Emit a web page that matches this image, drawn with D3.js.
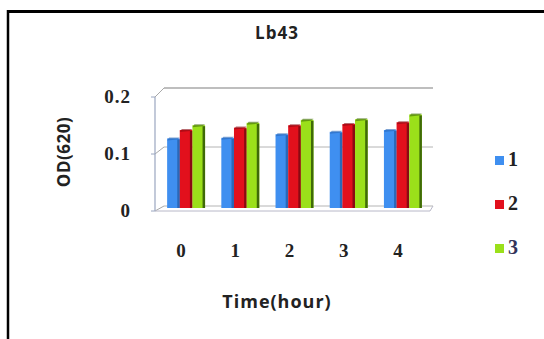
<!DOCTYPE html>
<html>
<head>
<meta charset="utf-8">
<script src="https://cdn.jsdelivr.net/npm/d3@7"></script>
<style>
  html, body { margin: 0; padding: 0; background: #fff; }
  svg { display: block; }
</style>
</head>
<body>
<svg id="chart" width="544" height="339"></svg>
<script>
// ---- data ----
const categories = ["0", "1", "2", "3", "4"];
const seriesNames = ["1", "2", "3"];
const series1 = [0.116, 0.117, 0.123, 0.127, 0.130];
const series2 = [0.130, 0.134, 0.138, 0.140, 0.143];
const series3 = [0.138, 0.142, 0.147, 0.148, 0.156];
const yTicks = [0, 0.1, 0.2];
const yTickLabels = ["0", "0.1", "0.2"];
const title = "Lb43";
const xTitle = "Time(hour)";
const yTitle = "OD(620)";

const seriesValues = [series1, series2, series3];
const colors = ["#3f8ff0", "#e2101c", "#9be01a"];
const sideColors = ["#2a68b8", "#8a0a12", "#3f6a08"];

const svg = d3.select("#chart");

// frame
svg.append("line").attr("x1", 8).attr("x2", 544).attr("y1", 11.5).attr("y2", 11.5)
  .attr("stroke", "#000").attr("stroke-width", 3);
svg.append("line").attr("x1", 8).attr("x2", 8).attr("y1", 10).attr("y2", 339)
  .attr("stroke", "#000").attr("stroke-width", 2.5);

// scales
const x = d3.scaleBand().domain(categories).range([159, 430]).paddingInner(0.3).paddingOuter(0.15);
const xs = d3.scaleBand().domain(seriesNames).range([0, x.bandwidth()]);
const yBack = d3.scaleLinear().domain([0, 0.2]).range([206, 88]);
const yFront = d3.scaleLinear().domain([0, 0.2]).range([211, 97]);
const yBar = d3.scaleLinear().domain([0, 0.2]).range([208, 88]);

const backLeft = 164, backRight = 433, frontLeft = 155;

// back wall gridlines
const grid = svg.append("g");
yTicks.forEach(t => {
  grid.append("line")
    .attr("x1", backLeft).attr("x2", backRight)
    .attr("y1", yBack(t)).attr("y2", yBack(t))
    .attr("stroke", t === 0.2 ? "#a8a8a8" : "#b4b4b4").attr("stroke-width", t === 0.2 ? 1.5 : 1);
  grid.append("line")
    .attr("x1", frontLeft).attr("x2", backLeft)
    .attr("y1", yFront(t)).attr("y2", yBack(t))
    .attr("stroke", "#a8a8a8").attr("stroke-width", 1);
});
grid.append("line").attr("x1", frontLeft).attr("x2", frontLeft)
  .attr("y1", yFront(0.2)).attr("y2", yFront(0))
  .attr("stroke", "#9aa6c0").attr("stroke-width", 1.2);
grid.append("line").attr("x1", frontLeft).attr("x2", backRight - 3)
  .attr("y1", yFront(0)).attr("y2", yFront(0))
  .attr("stroke", "#b8b8c8").attr("stroke-width", 1);
grid.append("line").attr("x1", backRight - 3).attr("x2", backRight)
  .attr("y1", yFront(0)).attr("y2", yBack(0))
  .attr("stroke", "#b8b8c8").attr("stroke-width", 1);
yTicks.forEach(t => {
  grid.append("line").attr("x1", frontLeft - 4).attr("x2", frontLeft)
    .attr("y1", yFront(t)).attr("y2", yFront(t))
    .attr("stroke", "#9aa6c0").attr("stroke-width", 1);
});

// bars
const bars = svg.append("g");
categories.forEach((c, i) => {
  seriesNames.forEach((s, j) => {
    const v = seriesValues[j][i];
    const bx = x(c) + xs(s);
    const bw = xs.bandwidth();
    const top = yBar(v);
    const bottom = yBar(0);
    bars.append("rect")
      .attr("x", bx).attr("y", top)
      .attr("width", bw).attr("height", bottom - top)
      .attr("fill", colors[j]);
    bars.append("rect")
      .attr("x", bx + bw - 2.5).attr("y", top + 1)
      .attr("width", 2.5).attr("height", bottom - top - 1)
      .attr("fill", sideColors[j]);
    bars.append("path")
      .attr("d", `M${bx},${top + 2} L${bx + 2},${top - 1} L${bx + bw},${top - 1} L${bx + bw - 2.5},${top + 1} Z`)
      .attr("fill", sideColors[j]).attr("opacity", 0.6);
  });
});

// y tick labels
const yl = svg.append("g").attr("font-family", "'Liberation Serif', serif")
  .attr("font-weight", "bold").attr("font-size", 19).attr("fill", "#222");
yTicks.forEach((t, i) => {
  yl.append("text").attr("x", 131).attr("y", yFront(t) + 2)
    .attr("text-anchor", "end").attr("dominant-baseline", "middle")
    .attr("letter-spacing", 1)
    .text(yTickLabels[i]);
});

// x tick labels
const xl = svg.append("g").attr("font-family", "'Liberation Serif', serif")
  .attr("font-weight", "bold").attr("font-size", 19).attr("fill", "#222");
categories.forEach(c => {
  xl.append("text").attr("x", x(c) + x.bandwidth() / 2 - 5).attr("y", 253)
    .attr("text-anchor", "middle").attr("dominant-baseline", "middle")
    .text(c);
});

// title
svg.append("text").attr("x", 277).attr("y", 34)
  .attr("text-anchor", "middle").attr("dominant-baseline", "middle")
  .attr("font-family", "'Open Sans', sans-serif").attr("font-weight", "bold")
  .attr("font-size", 17).attr("letter-spacing", 1).attr("fill", "#222")
  .text(title);

// x axis title
svg.append("text").attr("x", 277).attr("y", 303)
  .attr("text-anchor", "middle").attr("dominant-baseline", "middle")
  .attr("font-family", "'Open Sans', sans-serif").attr("font-weight", "bold")
  .attr("font-size", 18).attr("letter-spacing", 1).attr("fill", "#222")
  .text(xTitle);

// y axis title
svg.append("text").attr("transform", "translate(65,152) rotate(-90)")
  .attr("text-anchor", "middle").attr("dominant-baseline", "middle")
  .attr("font-family", "'Open Sans', sans-serif").attr("font-weight", "bold")
  .attr("font-size", 17).attr("letter-spacing", 0.5).attr("fill", "#222")
  .text(yTitle);

// legend
const legendY = d3.scalePoint().domain(seriesNames).range([160, 248]);
const lg = svg.append("g");
seriesNames.forEach((s, j) => {
  lg.append("rect").attr("x", 495).attr("y", legendY(s) - 4)
    .attr("width", 9).attr("height", 9).attr("fill", colors[j]);
  lg.append("text").attr("x", 508).attr("y", legendY(s) + 1)
    .attr("dominant-baseline", "middle")
    .attr("font-family", "'Liberation Serif', serif").attr("font-weight", "bold")
    .attr("font-size", 20).attr("fill", j === 2 ? "#33335a" : "#222")
    .text(s);
});
</script>
</body>
</html>
